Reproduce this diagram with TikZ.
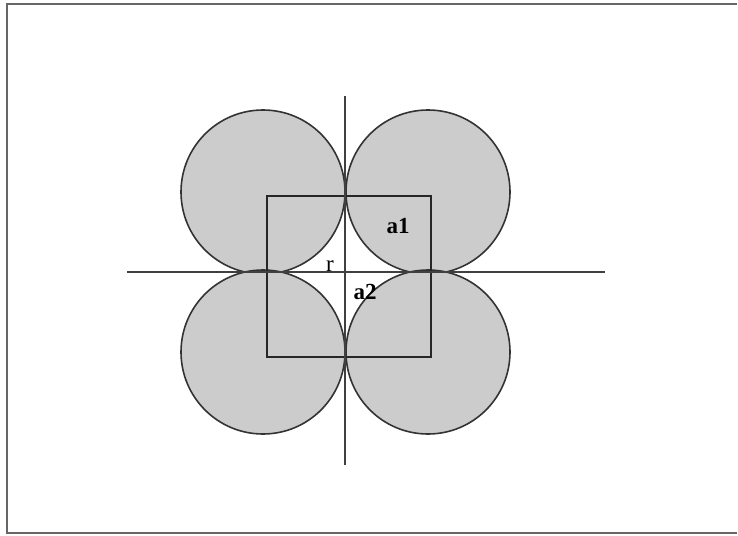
\documentclass[tikz,border=0pt]{standalone}
\usepackage{fontspec}
\setmainfont{Liberation Serif}
\tikzset{
  disc/.style={draw=black!80,line width=1.6pt,fill=black!20},
  axis/.style={draw=black!75,line width=1.6pt},
  lbl/.style={inner sep=0pt,font=\fontsize{23}{23}\selectfont\bfseries}
}
\begin{document}
\begin{tikzpicture}[x=1pt,y=-1pt]
\useasboundingbox (0,0) rectangle (738,535);
% frame
\draw[black!60,line width=2pt] (737,4) -- (7,4) -- (7,533) -- (737,533);
% four discs
\foreach \cx/\cy in {263/192,428/192,263/352,428/352}
  \draw[disc] (\cx,\cy) circle (82);
% square through the centres
\draw[black!85,line width=2pt] (267,196) rectangle (431,357);
% axes
\coordinate (xl) at (127,272);
\coordinate (xr) at (605,272);
\coordinate (yt) at (345,96);
\coordinate (yb) at (345,465);
\draw[axis] (xl) -- (xr);
\draw[axis] (yt) -- (yb);
% labels
\node[lbl] (aone) at (398,226) {a1};
\node[lbl,font=\fontsize{23}{23}\selectfont] (rr) at (330,266) {r};
\node[lbl] (atwo) at (365,292) {a2};
\end{tikzpicture}
\end{document}
